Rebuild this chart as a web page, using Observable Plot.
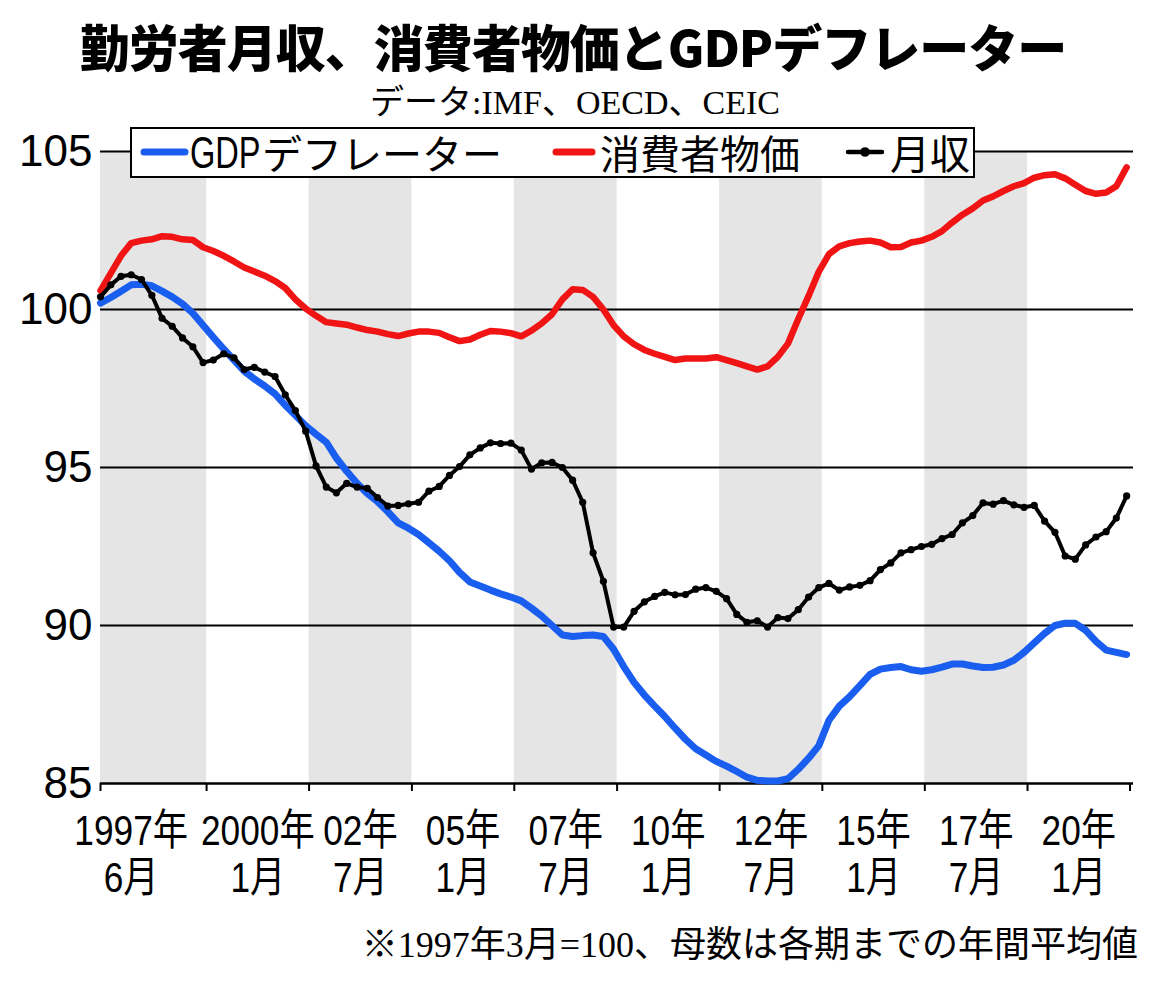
<!DOCTYPE html>
<html><head><meta charset="utf-8">
<script src="https://cdn.jsdelivr.net/npm/d3@7"></script>
<script src="https://cdn.jsdelivr.net/npm/@observablehq/plot@0.6"></script>
<style>
body{margin:0;background:#fff;}
#wrap{position:relative;width:1150px;height:984px;overflow:hidden;background:#fff;}
#title{position:absolute;left:0;width:1146px;top:10px;text-align:center;font-family:"Noto Sans CJK JP",sans-serif;font-weight:900;font-size:50px;letter-spacing:-1px;line-height:70px;white-space:nowrap;}
#sub{position:absolute;left:0;width:1150px;top:82px;text-align:center;font-family:"Liberation Serif","Noto Sans CJK JP",serif;font-size:34px;line-height:42px;white-space:nowrap;}
#chart{position:absolute;left:0;top:120px;}
#legend{position:absolute;left:130px;top:127px;width:845px;height:51px;box-sizing:border-box;border:2px solid #000;background:#fff;}
.lt{position:absolute;top:127px;height:51px;line-height:51px;font-family:"Liberation Sans Narrow","Liberation Sans","Noto Sans CJK JP",sans-serif;font-size:40px;white-space:nowrap;}
.sw{position:absolute;}
#note{position:absolute;right:12px;top:922px;font-family:"Liberation Serif","Noto Sans CJK JP",serif;font-size:36px;line-height:46px;white-space:nowrap;}
</style>
</head><body>
<div id="wrap">
  <div id="title">勤労者月収、消費者物価とGDPデフレーター</div>
  <div id="sub">データ:IMF、OECD、CEIC</div>
  <div id="chart"></div>
  <div id="legend"></div>
  <svg class="sw" style="left:138px;top:144px" width="54" height="16"><line x1="6" y1="8" x2="47" y2="8" stroke="#1a5ef0" stroke-width="7" stroke-linecap="round"/></svg>
  <span class="lt" style="left:190px;font-family:'Liberation Sans',sans-serif;font-size:44px;transform:scaleX(0.74);transform-origin:0 0;">GDP</span>
  <span class="lt" style="left:262px;font-family:'Noto Sans CJK JP',sans-serif;">デフレーター</span>
  <svg class="sw" style="left:550px;top:144px" width="50" height="16"><line x1="6" y1="8" x2="42" y2="8" stroke="#f01414" stroke-width="7" stroke-linecap="round"/></svg>
  <span class="lt" style="left:600px;font-family:'Noto Sans CJK JP',sans-serif;">消費者物価</span>
  <svg class="sw" style="left:844px;top:144px" width="44" height="16"><line x1="4" y1="8" x2="38" y2="8" stroke="#000" stroke-width="4.5" stroke-linecap="round"/><circle cx="21" cy="8" r="4.8" fill="#000"/></svg>
  <span class="lt" style="left:890px;font-family:'Noto Sans CJK JP',sans-serif;">月収</span>
  <div id="note">※1997年3月=100、母数は各期までの年間平均値</div>
</div>
<script>
// ---- data (quarterly, 1997-06 .. 2022-06; 1997年3月=100) ----
const startQuarter = "1997-06-01";
const endQuarter = "2022-07-01";

const gdpDeflator = [
  100.2,100.38,100.58,100.78,100.8,100.75,100.58,100.4,100.18,99.88,
  99.5,99.12,98.75,98.4,98.05,97.8,97.58,97.33,96.97,96.65,
  96.32,96.05,95.8,95.3,94.88,94.5,94.18,93.92,93.6,93.25,
  93.08,92.88,92.62,92.35,92.05,91.68,91.38,91.25,91.12,91.0,
  90.9,90.78,90.55,90.3,90.0,89.7,89.65,89.68,89.7,89.65,
  89.25,88.7,88.2,87.8,87.45,87.12,86.75,86.4,86.1,85.9,
  85.7,85.55,85.38,85.2,85.1,85.08,85.08,85.15,85.45,85.8,
  86.2,87.0,87.45,87.75,88.1,88.45,88.62,88.67,88.7,88.6,
  88.55,88.6,88.68,88.78,88.78,88.72,88.67,88.68,88.75,88.9,
  89.15,89.45,89.75,90.0,90.07,90.07,89.85,89.5,89.22,89.15,
  89.08
];
const cpi = [
  100.6,101.15,101.7,102.1,102.18,102.22,102.32,102.3,102.22,102.2,
  101.97,101.85,101.7,101.52,101.33,101.2,101.07,100.9,100.68,100.32,
  100.03,99.8,99.6,99.56,99.52,99.43,99.35,99.3,99.22,99.16,
  99.24,99.3,99.3,99.26,99.12,99.0,99.05,99.2,99.32,99.3,
  99.25,99.15,99.33,99.56,99.85,100.32,100.64,100.62,100.4,100.0,
  99.5,99.15,98.9,98.72,98.6,98.5,98.4,98.45,98.45,98.45,
  98.49,98.4,98.3,98.2,98.1,98.2,98.5,98.92,99.7,100.43,
  101.2,101.75,102.0,102.1,102.15,102.18,102.12,101.97,101.98,102.12,
  102.18,102.3,102.48,102.75,103.0,103.2,103.45,103.58,103.75,103.9,
  104.0,104.17,104.25,104.28,104.15,103.95,103.75,103.66,103.7,103.9,
  104.5
];
const monthlyWage = [
  100.4,100.78,101.05,101.1,100.95,100.45,99.72,99.47,99.1,98.82,
  98.32,98.4,98.6,98.47,98.1,98.17,98.02,97.88,97.3,96.8,
  96.15,95.05,94.38,94.2,94.5,94.38,94.34,94.05,93.78,93.8,
  93.85,93.9,94.25,94.4,94.75,95.03,95.4,95.62,95.78,95.76,
  95.77,95.55,94.95,95.15,95.16,95.0,94.6,93.9,92.3,91.4,
  89.95,89.95,90.45,90.75,90.92,91.05,90.97,90.98,91.15,91.2,
  91.08,90.85,90.35,90.1,90.15,89.95,90.25,90.22,90.5,90.9,
  91.2,91.33,91.12,91.22,91.27,91.42,91.77,91.98,92.3,92.4,
  92.5,92.57,92.75,92.88,93.25,93.48,93.88,93.84,93.95,93.82,
  93.74,93.8,93.3,92.95,92.2,92.1,92.55,92.8,92.97,93.4,
  94.1
];

const yTicks = [85, 90, 95, 100, 105];
const gridValues = [90, 95, 100, 105];
const tickDates = ["1997-06-01","2000-01-01","2002-07-01","2005-01-01","2007-07-01","2010-01-01","2012-07-01","2015-01-01","2017-07-01","2020-01-01","2022-07-01"];
const bandStarts = ["1997-06-01","2002-07-01","2007-07-01","2012-07-01","2017-07-01"];
const bandEnds   = ["2000-01-01","2005-01-01","2010-01-01","2015-01-01","2020-01-01"];
const labelDates = ["1998-03-01","2001-04-01","2003-10-01","2006-04-01","2008-10-01","2011-04-01","2013-10-01","2016-04-01","2018-10-01","2021-04-01"];
const tickLabels = ["1997年\n6月","2000年\n1月","02年\n7月","05年\n1月","07年\n7月","10年\n1月","12年\n7月","15年\n1月","17年\n7月","20年\n1月"];

// ---- build tables ----
const quarters = d3.utcMonth.range(new Date(startQuarter), new Date(endQuarter), 3);
const table = quarters.map((date, i) => ({date, gdp: gdpDeflator[i], cpi: cpi[i], wage: monthlyWage[i]}));
const bands = bandStarts.map((s, i) => ({x1: new Date(s), x2: new Date(bandEnds[i])}));
const labels = labelDates.map((d, i) => ({date: new Date(d), text: tickLabels[i]}));
const ticks = tickDates.map(d => new Date(d));

const chart = Plot.plot({
  width: 1150,
  height: 800,
  marginTop: 31,
  marginBottom: 137,
  marginLeft: 100,
  marginRight: 17,
  style: {fontFamily: "'Liberation Sans','Noto Sans CJK JP',sans-serif", fontSize: "44px", background: "transparent", overflow: "visible"},
  x: {type: "utc", domain: [new Date("1997-06-01"), new Date("2022-08-01")]},
  y: {domain: [85, 105]},
  marks: [
    Plot.rect(bands, {x1: "x1", x2: "x2", fill: "#e5e5e5"}),
    Plot.ruleY(gridValues, {stroke: "#000", strokeWidth: 2}),
    Plot.ruleY([85], {stroke: "#000", strokeWidth: 2.5}),
    Plot.axisX(ticks, {tickSize: 8, strokeWidth: 2, tickFormat: () => ""}),
    Plot.text(labels, {x: "date", text: "text", frameAnchor: "bottom", lineAnchor: "top", dy: 28, fontSize: 43, lineHeight: 1.1, fill: "#000"}),
    Plot.axisY(yTicks, {tickSize: 0, tickPadding: 8, fontSize: 44, tickFormat: d => String(d)}),
    Plot.line(table, {x: "date", y: "gdp", stroke: "#1a5ef0", strokeWidth: 7, strokeLinejoin: "round", strokeLinecap: "round"}),
    Plot.line(table, {x: "date", y: "cpi", stroke: "#f01414", strokeWidth: 6.5, strokeLinejoin: "round", strokeLinecap: "round"}),
    Plot.line(table, {x: "date", y: "wage", stroke: "#000", strokeWidth: 4, strokeLinejoin: "round"}),
    Plot.dot(table, {x: "date", y: "wage", r: 3.6, fill: "#000"})
  ]
});
document.getElementById("chart").appendChild(chart);

// condense the date labels horizontally
chart.querySelectorAll("text").forEach(t => {
  if (!t.textContent.includes("年")) return;
  const x = +(t.getAttribute("x") || 0), y = +(t.getAttribute("y") || 0);
  const tr = t.getAttribute("transform") || "";
  t.setAttribute("transform", `${tr} translate(${x},${y}) scale(0.82,1) translate(${-x},${-y})`);
});
</script>
</body></html>
